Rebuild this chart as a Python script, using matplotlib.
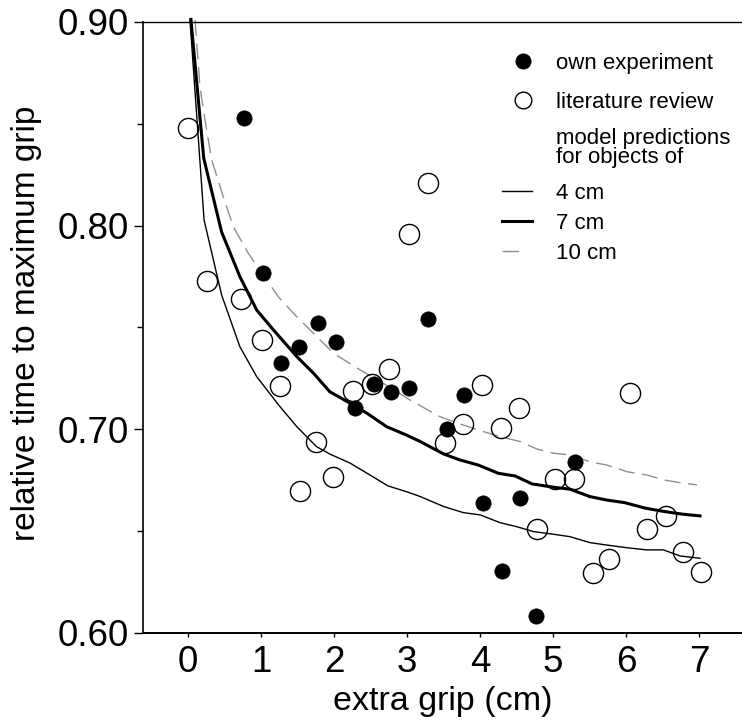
import matplotlib
matplotlib.use("Agg")
import matplotlib.pyplot as plt
from matplotlib.lines import Line2D
from matplotlib.ticker import FixedLocator

plt.rcParams['font.family'] = ['Liberation Sans', 'DejaVu Sans']

# own experiment (filled)
own_x = [0.77, 1.02, 1.28, 1.52, 1.78, 2.03, 2.29, 2.54, 2.78, 3.02, 3.28, 3.54, 3.78, 4.04, 4.30, 4.55, 4.77, 5.30]
own_y = [0.853, 0.777, 0.7328, 0.7405, 0.752, 0.743, 0.7104, 0.7223, 0.7184, 0.7202, 0.7542, 0.700, 0.7169, 0.664, 0.6306, 0.6665, 0.6084, 0.6842]

# literature review (open)
lit_x = [0.004, 3.29, 3.03, 0.26, 0.73, 1.01, 1.26, 2.756, 2.26, 2.52, 1.75, 1.99, 1.54, 4.02, 4.53, 3.765,
         3.52, 4.28, 6.05, 5.02, 5.28, 4.78, 6.29, 6.54, 5.77, 5.55, 6.78, 7.03]
lit_y = [0.848, 0.821, 0.796, 0.773, 0.764, 0.744, 0.7215, 0.7295, 0.719, 0.7223, 0.694, 0.6765, 0.6698, 0.7216, 0.7105, 0.7028,
         0.6932, 0.7005, 0.7177, 0.6757, 0.6757, 0.651, 0.651, 0.6575, 0.6365, 0.6294, 0.6398, 0.630]

# model predictions
m4_x = [0.027, 0.22, 0.46, 0.71, 0.94, 1.24, 1.49, 1.76, 1.94, 2.22, 2.49, 2.74, 2.99, 3.18, 3.50, 3.77, 4.00,
        4.27, 4.50, 4.73, 5.00, 5.23, 5.50, 5.73, 6.00, 6.28, 6.51, 6.74, 7.01]
m4_y = [0.901, 0.8028, 0.766, 0.7406, 0.7259, 0.712, 0.7013, 0.6915, 0.6879, 0.6834, 0.6776, 0.6722, 0.6694, 0.6670,
        0.6621, 0.6591, 0.6580, 0.6542, 0.6522, 0.6498, 0.6485, 0.6473, 0.6444, 0.6432, 0.6419, 0.6408, 0.6408, 0.6378, 0.6367]

m7_x = [0.04, 0.215, 0.46, 0.71, 0.94, 1.17, 1.49, 1.72, 1.94, 2.22, 2.45, 2.72, 2.99, 3.18, 3.50, 3.72, 3.98,
        4.25, 4.48, 4.71, 5.00, 5.23, 5.50, 5.73, 5.98, 6.26, 6.53, 6.78, 7.01]
m7_y = [0.9013, 0.8332, 0.7969, 0.775, 0.7586, 0.7488, 0.7357, 0.7275, 0.7185, 0.7128, 0.7079, 0.7013, 0.6972, 0.694,
        0.6879, 0.6850, 0.6824, 0.6784, 0.6771, 0.6732, 0.6716, 0.6706, 0.6670, 0.6653, 0.6640, 0.6613, 0.6596, 0.6583, 0.6575]

m10_x = [0.096, 0.164, 0.233, 0.324, 0.483, 0.62, 0.826, 1.236, 1.488, 1.716, 1.99, 2.355, 2.674, 3.04, 3.45, 3.72,
         4.00, 4.27, 4.55, 4.77, 5.00, 5.23, 5.50, 5.73, 6.01, 6.28, 6.51, 6.74, 6.97]
m10_y = [0.901, 0.8682, 0.8519, 0.8323, 0.8142, 0.7995, 0.7864, 0.7651, 0.7553, 0.7472, 0.7374, 0.7292, 0.7226, 0.7144,
         0.7062, 0.7027, 0.6994, 0.6964, 0.6940, 0.6904, 0.6883, 0.6874, 0.6841, 0.6825, 0.6792, 0.6776, 0.6752, 0.6738, 0.6727]

x_ticks = [0, 1, 2, 3, 4, 5, 6, 7]
y_ticks = [0.60, 0.70, 0.80, 0.90]
y_minor = [0.65, 0.75, 0.85]
y_ticklabels = ["0.60", "0.70", "0.80", "0.90"]
legend_labels = ["own experiment", "literature review", "4 cm", "7 cm", "10 cm"]
legend_header = "model predictions\nfor objects of"

W, H = 742, 722
fig = plt.figure(figsize=(W / 100, H / 100), dpi=100)
ax = fig.add_axes([142.6 / W, 89 / H, (W - 142.6) / W, 611 / H])

grey = '#8e8e8e'
dash = (0, (11.5, 5.5))
ax.plot(m4_x, m4_y, color='black', lw=1.0, zorder=2, clip_on=False)
ax.plot(m7_x, m7_y, color='black', lw=2.2, zorder=2, clip_on=False)
ax.plot(m10_x, m10_y, color=grey, lw=1.0, linestyle=dash, zorder=2, clip_on=False)

ax.plot(lit_x, lit_y, linestyle='none', marker='o', ms=14.5, mfc='none', mec='black', mew=1.0, zorder=3)
ax.plot(own_x, own_y, linestyle='none', marker='o', ms=11, mfc='black', mec='black', mew=0.5, zorder=4)

ax.set_xlim(-0.6216, 7.585)
ax.set_ylim(0.60, 0.90)
ax.set_xticks(x_ticks)
ax.set_xticklabels([str(v) for v in x_ticks])
ax.set_yticks(y_ticks)
ax.set_yticklabels(y_ticklabels)
ax.yaxis.set_minor_locator(FixedLocator(y_minor))

ax.spines['right'].set_visible(False)
ax.spines['left'].set_linewidth(1.2)
ax.spines['bottom'].set_linewidth(1.4)
ax.spines['top'].set_linewidth(1.0)

ax.tick_params(axis='y', which='major', direction='out', length=6.7, width=1.0, labelsize=26.5, pad=3.5)
ax.tick_params(axis='y', which='minor', direction='out', length=4.3, width=1.0)
ax.tick_params(axis='x', which='major', direction='out', length=3, width=1.0, labelsize=26.5, pad=5.5)

ax.set_xlabel("extra grip (cm)", fontsize=24.5)
ax.set_ylabel("relative time to maximum grip", fontsize=24)
ax.xaxis.set_label_coords(0.5, -0.086)
ax.yaxis.set_label_coords(-0.168, 0.507)

# legend 1: markers
h1 = [Line2D([], [], linestyle='none', marker='o', ms=11, mfc='black', mec='black', mew=0.5),
      Line2D([], [], linestyle='none', marker='o', ms=12, mfc='none', mec='black', mew=1.0)]
fs = 16
leg1 = ax.legend(h1, legend_labels[:2], loc='upper left',
                 bbox_to_anchor=(513 / W, (H - 53) / H), bbox_transform=fig.transFigure,
                 frameon=False, fontsize=fs, borderpad=0, borderaxespad=0,
                 handlelength=0.9, handletextpad=1.05, labelspacing=0.80)
ax.add_artist(leg1)

fig.text(555.5 / W, (H - 148) / H, legend_header, fontsize=fs, ha='left', va='center', linespacing=0.86)

h2 = [Line2D([], [], color='black', lw=1.0),
      Line2D([], [], color='black', lw=2.2),
      Line2D([], [], color=grey, lw=1.0, linestyle=(0, (12, 30)))]
leg2 = ax.legend(h2, legend_labels[2:], loc='upper left',
                 bbox_to_anchor=(501.7 / W, (H - 183) / H), bbox_transform=fig.transFigure,
                 frameon=False, fontsize=fs, borderpad=0, borderaxespad=0,
                 handlelength=1.35, handletextpad=1.1, labelspacing=0.40)

fig.savefig("out.png", dpi=100)
